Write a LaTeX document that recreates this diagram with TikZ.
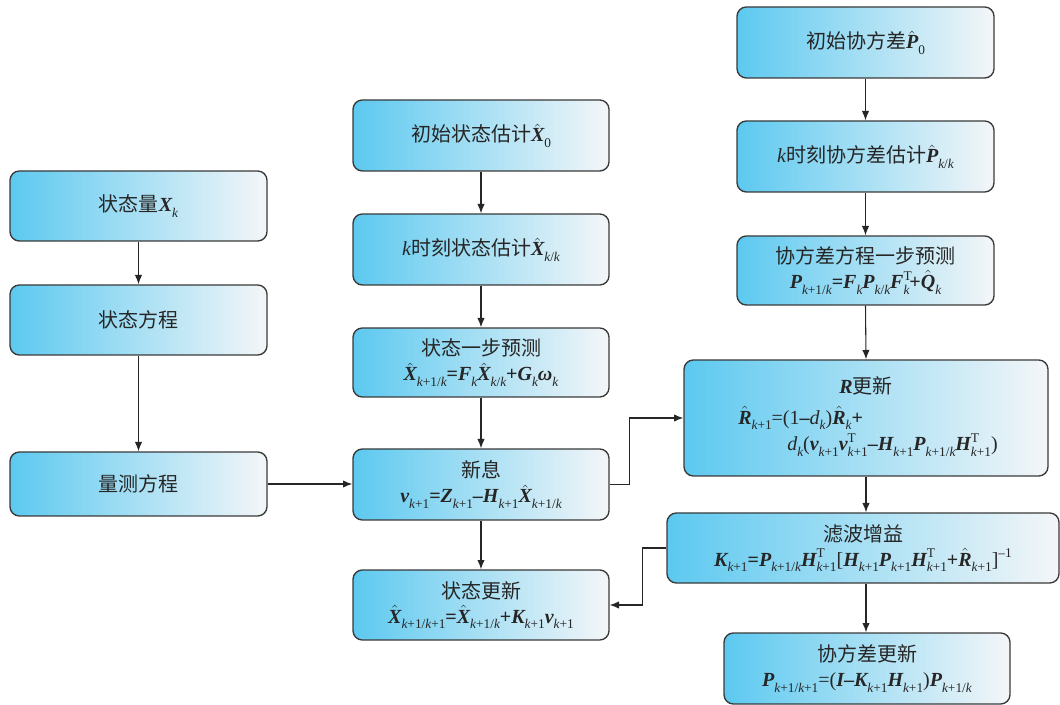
\documentclass[tikz,border=0pt]{standalone}
\usepackage{amsmath}
\usepackage{fontspec}
\setmainfont{Liberation Serif}
\newfontfamily\cjk{Noto Sans CJK SC}
\usetikzlibrary{arrows.meta,calc}
\newcommand{\bv}[1]{{\rmfamily\bfseries\itshape #1}}
\newcommand{\bvh}[1]{$\hat{\text{\bv{#1}}}$}
\newcommand{\vk}{{\itshape k}}
\newcommand{\smallf}{\rmfamily\mdseries\upshape\fontsize{10pt}{10pt}\selectfont}
\newcommand{\sbs}[1]{\raisebox{-4pt}{\smallf #1}}
\newcommand{\sps}[2]{\mbox{\rlap{\raisebox{6.5pt}{\smallf #1}}\raisebox{-4pt}{\smallf #2}}}
\newcommand{\supx}[1]{\raisebox{6.5pt}{\smallf #1}}
\newcommand{\opb}[1]{{\rmfamily\bfseries #1}}
\definecolor{cL}{HTML}{5CC9F0}
\definecolor{cR}{HTML}{F4F6F8}
\definecolor{cB}{HTML}{3A3A3A}
\tikzset{
  x=0.75pt, y=-0.75pt,
  box/.style 2 args={draw=cB, line width=1pt, rounded corners=7pt,
    left color=cL, right color=cR,
    minimum width=#1*0.75pt, minimum height=#2*0.75pt,
    inner sep=0pt, align=center, text=black!85,
    font=\cjk\fontsize{15pt}{21pt}\selectfont},
  txt/.style={inner sep=0pt, text=black!85, font=\cjk\fontsize{15pt}{21pt}\selectfont},
  arr/.style={draw=black!85, line width=0.8pt, -{Latex[length=7pt,width=5.5pt]}}
}
\begin{document}
\begin{tikzpicture}
\useasboundingbox (0,0) rectangle (1060,705);
% left column
\node[box={257}{70}] (L1) at (138.5,206) {状态量\bv{X}\sbs{\vk}};
\node[box={257}{70}] (L2) at (138.5,320) {状态方程};
\node[box={257}{64}] (L3) at (138.5,484) {量测方程};
% middle column
\node[box={256}{71}] (M1) at (481,135.5) {初始状态估计\bvh{X}\sbs{0}};
\node[box={256}{71}] (M2) at (481,249.5) {{\rmfamily\itshape k}时刻状态估计\bvh{X}\sbs{\vk/\vk}};
\node[box={256}{69}] (M3) at (481,362.5) {状态一步预测\\[-2pt]
  \bvh{X}\sbs{\vk+1/\vk}\opb{=}\bv{F}\sbs{\vk}\bvh{X}\sbs{\vk/\vk}\opb{+}\bv{G}\sbs{\vk}\bv{ω}\sbs{\vk}};
\node[box={256}{71}] (M4) at (481,484.5) {新息\\[-2pt]
  \bv{v}\sbs{\vk+1}\opb{=}\bv{Z}\sbs{\vk+1}\opb{–}\bv{H}\sbs{\vk+1}\bvh{X}\sbs{\vk+1/\vk}};
\node[box={256}{70}] (M5) at (481,605) {状态更新\\[-2pt]
  \bvh{X}\sbs{\vk+1/\vk+1}\opb{=}\bvh{X}\sbs{\vk+1/\vk}\opb{+}\bv{K}\sbs{\vk+1}\bv{v}\sbs{\vk+1}};
% right column
\node[box={257}{71}] (R1) at (865.5,42.5) {初始协方差\bvh{P}\sbs{0}};
\node[box={257}{71}] (R2) at (865.5,156.5) {{\rmfamily\itshape k}时刻协方差估计\bvh{P}\sbs{\vk/\vk}};
\node[box={257}{69}] (R3) at (865.5,270.5) {协方差方程一步预测\\[-2pt]
  \bv{P}\sbs{\vk+1/\vk}\opb{=}\bv{F}\sbs{\vk}\bv{P}\sbs{\vk/\vk}\bv{F}\sps{T}{\vk}\opb{+}\bvh{Q}\sbs{\vk}};
\node[box={364}{116}] (R4) at (866,418) {};
\node[txt] (R4t) at (866,386) {\bv{R}更新};
\node[txt, anchor=west] (R4a) at (738,418) {\bvh{R}\sbs{\vk+1}{\rmfamily=(1\opb{–}\textit{d}}\sbs{\vk}{\rmfamily)}\bvh{R}\sbs{\vk}\opb{+}};
\node[txt, anchor=west] (R4b) at (787,445) {{\rmfamily\itshape d}\sbs{\vk}{\rmfamily(}\bv{v}\sbs{\vk+1}\bv{v}\sps{T}{\vk+1}\opb{–}\bv{H}\sbs{\vk+1}\bv{P}\sbs{\vk+1/\vk}\bv{H}\sps{T}{\vk+1}{\rmfamily)}};
\node[box={392}{70}] (R5) at (863,548) {滤波增益\\[-2pt]
  \bv{K}\sbs{\vk+1}\opb{=}\bv{P}\sbs{\vk+1/\vk}\bv{H}\sps{T}{\vk+1}{\rmfamily[}\bv{H}\sbs{\vk+1}\bv{P}\sbs{\vk+1}\bv{H}\sps{T}{\vk+1}\opb{+}\bvh{R}\sbs{\vk+1}{\rmfamily]}\supx{–1}};
\node[box={286}{71}] (R6) at (867,668.5) {协方差更新\\[-2pt]
  \bv{P}\sbs{\vk+1/\vk+1}{\rmfamily=(}\bv{I}\opb{–}\bv{K}\sbs{\vk+1}\bv{H}\sbs{\vk+1}{\rmfamily)}\bv{P}\sbs{\vk+1/\vk}};
% connectors
\draw[arr] (L1.south) -- (L2.north);
\draw[arr] (L2.south) -- (L3.north);
\draw[arr] (L3.east) -- (M4.west |- L3.east);
\draw[arr] (M1.south) -- (M2.north);
\draw[arr] (M2.south) -- (M3.north);
\draw[arr] (M3.south) -- (M4.north);
\draw[arr] (M4.south) -- (M5.north);
\draw[arr] (M4.east) -- ++(20,0) |- (R4.west);
\draw[arr] (R1.south) -- (R2.north);
\draw[arr] (R2.south) -- (R3.north);
\draw[arr] (R3.south) -- (R4.north);
\draw[arr] (R4.south) -- (R4.south |- R5.north);
\draw[arr] (R4.south |- R5.south) -- (R4.south |- R6.north);
\draw[arr] (R5.west) -- ++(-24,0) |- (M5.east);
\end{tikzpicture}
\end{document}
